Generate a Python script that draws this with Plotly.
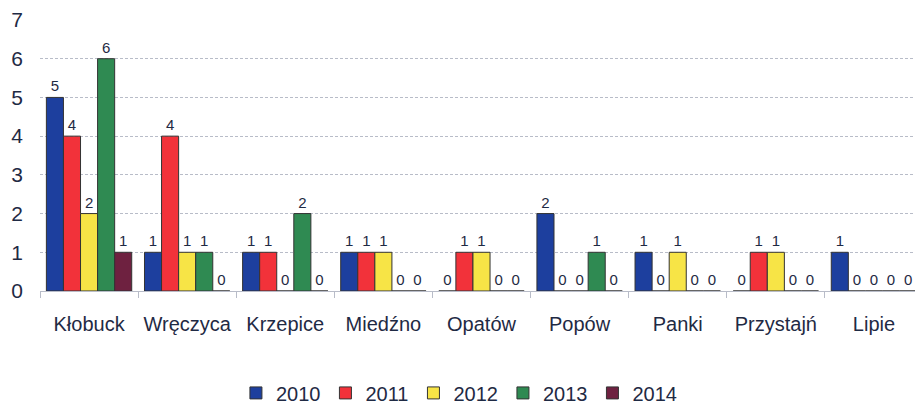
import plotly.graph_objects as go

categories = ["Kłobuck", "Wręczyca", "Krzepice", "Miedźno", "Opatów",
              "Popów", "Panki", "Przystajń", "Lipie"]
years = ["2010", "2011", "2012", "2013", "2014"]

v2010 = [5, 1, 1, 1, 0, 2, 1, 0, 1]
v2011 = [4, 4, 1, 1, 1, 0, 0, 1, 0]
v2012 = [2, 1, 0, 1, 1, 0, 1, 1, 0]
v2013 = [6, 1, 2, 0, 0, 1, 0, 0, 0]
v2014 = [1, 0, 0, 0, 0, 0, 0, 0, 0]

series = [v2010, v2011, v2012, v2013, v2014]
colors = ["#1d3f9e", "#f2323a", "#f7e446", "#2f8a52", "#6e2140"]

fig = go.Figure()
for name, vals, col in zip(years, series, colors):
    fig.add_trace(go.Bar(
        x=categories, y=vals, name=name,
        marker=dict(color=col, line=dict(color="#333333", width=1)),
        text=vals, textposition="outside", cliponaxis=False,
        textfont=dict(size=15, color="#1f2a44", family="Liberation Sans"),
    ))

# page body has an 8px margin, so the figure is a bit smaller than the window
fig.update_layout(
    width=915, height=405,
    margin=dict(l=32, r=0, t=12, b=122),
    barmode="group", bargap=0.13, bargroupgap=0,
    plot_bgcolor="white", paper_bgcolor="white",
    font=dict(family="Liberation Sans", color="#1f2a44", size=19),
    legend=dict(orientation="h", x=0.475, xanchor="center", y=-0.448,
                yanchor="bottom", font=dict(size=20), itemwidth=30,
                traceorder="normal", tracegroupgap=0),
    showlegend=True,
)
fig.update_yaxes(range=[0, 7], dtick=1, showgrid=True, gridcolor="#b8bcc8",
                 griddash="3px,2px", gridwidth=1, zeroline=False,
                 showline=False, tickfont=dict(size=21),
                 ticklabelstandoff=16, automargin=False)
fig.update_xaxes(showgrid=False, showline=True, linecolor="#b8bcc8",
                 ticks="outside", tickson="boundaries", ticklen=6,
                 tickcolor="#b8bcc8", tickfont=dict(size=20), tickangle=0,
                 ticklabelstandoff=15, automargin=False)

fig.write_html("out.html")
